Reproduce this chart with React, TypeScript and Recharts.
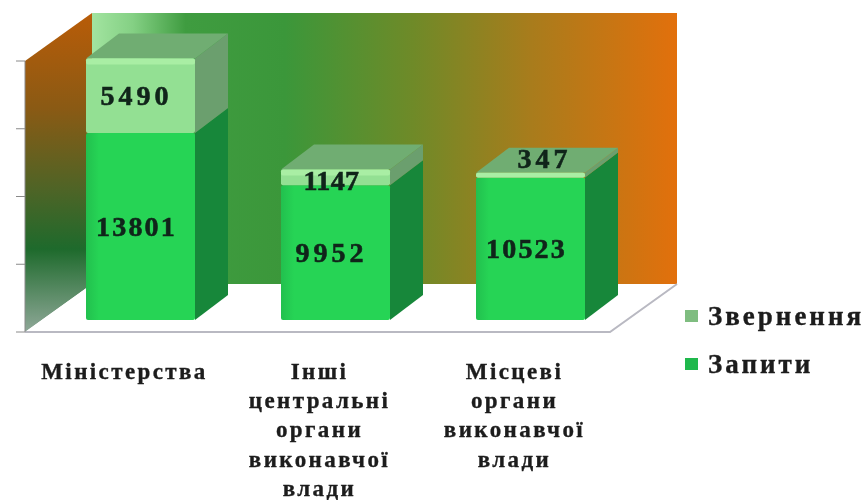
import { Bar, BarChart, LabelList, Legend, XAxis, YAxis, usePlotArea } from "recharts";

const categories = ["Міністерства", "Інші центральні органи виконавчої влади", "Місцеві органи виконавчої влади"];
const zapyty = [13801, 9952, 10523];
const zvernennia = [5490, 1147, 347];
const yTicks = [0, 5000, 10000, 15000, 20000];

const chartData = categories.map((name, i) => ({
  name,
  zapyty: zapyty[i],
  zvernennia: zvernennia[i],
}));

// fake 3D: how far the floor and a bar recede, and where the bars stand on the floor
const FLOOR_DX = 67;
const FLOOR_DY = -48;
const BAR_DX = 33;
const BAR_DY = -25;
const SHIFT_X = 18;
const SHIFT_Y = -12;

const SERIF = "'Liberation Serif', serif";
const INK = "#10241a";

function Walls() {
  const plot = usePlotArea();
  if (!plot) return null;
  const { x, y, width, height } = plot;
  const bottom = y + height;
  const right = x + width;
  return (
    <g>
      <defs>
        <linearGradient id="backWall" x1="0" y1="0" x2="1" y2="0">
          <stop offset="0" stopColor="#a2e4a0" />
          <stop offset="0.07" stopColor="#84d084" />
          <stop offset="0.16" stopColor="#3f9c40" />
          <stop offset="0.33" stopColor="#3b973a" />
          <stop offset="0.55" stopColor="#6f8a28" />
          <stop offset="0.75" stopColor="#a87c1c" />
          <stop offset="1" stopColor="#e2700c" />
        </linearGradient>
        <linearGradient id="sideWall" x1="0" y1="0" x2="0" y2="1">
          <stop offset="0" stopColor="#b95c08" />
          <stop offset="0.3" stopColor="#8a5a14" />
          <stop offset="0.55" stopColor="#4f6426" />
          <stop offset="0.74" stopColor="#1e6a2c" />
          <stop offset="1" stopColor="#8fa898" />
        </linearGradient>
        <linearGradient id="barFront" x1="0" y1="0" x2="1" y2="0">
          <stop offset="0" stopColor="#22c04e" />
          <stop offset="0.12" stopColor="#26d455" />
          <stop offset="1" stopColor="#26d455" />
        </linearGradient>
      </defs>
      <rect x={x + FLOOR_DX} y={y + FLOOR_DY} width={width} height={height} fill="url(#backWall)" />
      <polygon
        points={`${x},${y} ${x + FLOOR_DX},${y + FLOOR_DY} ${x + FLOOR_DX},${bottom + FLOOR_DY} ${x},${bottom}`}
        fill="url(#sideWall)"
      />
      <polygon
        points={`${x},${bottom} ${right},${bottom} ${right + FLOOR_DX},${bottom + FLOOR_DY} ${x + FLOOR_DX},${bottom + FLOOR_DY}`}
        fill="#ffffff"
      />
      <polyline
        points={`${x},${bottom} ${right},${bottom} ${right + FLOOR_DX},${bottom + FLOOR_DY}`}
        fill="none"
        stroke="#b9b9c2"
        strokeWidth={2}
      />
    </g>
  );
}

function Box3D(props: any) {
  const { x, y, width, height, front, side, top, bevel } = props;
  const left = x + SHIFT_X;
  const right = left + width;
  const upper = y + SHIFT_Y;
  const lower = upper + height;
  return (
    <g>
      <polygon
        points={`${right},${upper} ${right + BAR_DX},${upper + BAR_DY} ${right + BAR_DX},${lower + BAR_DY} ${right},${lower}`}
        fill={side}
      />
      {top && (
        <polygon
          points={`${left},${upper} ${left + BAR_DX},${upper + BAR_DY} ${right + BAR_DX},${upper + BAR_DY} ${right},${upper}`}
          fill={top}
        />
      )}
      <rect x={left} y={upper} width={width} height={height} rx={2} fill={front} />
      {bevel && <rect x={left} y={upper} width={width} height={Math.min(6, height)} rx={2} fill={bevel} />}
    </g>
  );
}

function ValueLabel(props: any) {
  const { x, y, width, height, value } = props;
  // the 347 label sits up on the top face, 1147 is set tight to fit its thin slice
  const isCap = value < 1000;
  const isThin = value < 2000;
  const spacing = isThin && !isCap ? 0.4 : value > 10000 ? 2.2 : 4;
  return (
    <text
      x={x + width / 2 + SHIFT_X + (isCap ? 14 : -4)}
      y={y + height / 2 + SHIFT_Y + (isCap ? -17 : isThin ? 3 : 0)}
      textAnchor="middle"
      dominantBaseline="central"
      fontFamily={SERIF}
      fontWeight="bold"
      fontSize={28}
      letterSpacing={spacing}
      fontKerning="none"
      stroke={INK}
      strokeWidth={0.6}
      fill={INK}
    >
      {value}
    </text>
  );
}

function CategoryTick(props: any) {
  const { x, payload } = props;
  const lines = String(payload.value).split(" ");
  return (
    <text
      x={x + 2}
      textAnchor="middle"
      fontFamily={SERIF}
      fontWeight="bold"
      fontSize={23}
      letterSpacing={2.4}
      stroke="#1c1c1c"
      strokeWidth={0.35}
      fill="#1c1c1c"
    >
      {lines.map((line, i) => (
        <tspan key={line} x={x + 2} y={379 + i * 29.2}>
          {line}
        </tspan>
      ))}
    </text>
  );
}

function LegendBox(props: any) {
  const items = [...props.payload].reverse();
  return (
    <div>
      {items.map((item: any) => (
        <div
          key={item.value}
          style={{
            display: "flex",
            alignItems: "center",
            height: 48,
            fontFamily: SERIF,
            fontWeight: "bold",
            fontSize: 27,
            letterSpacing: 3,
            color: "#1c1c1c",
            WebkitTextStroke: "0.35px #1c1c1c",
          }}
        >
          <span style={{ width: 13, height: 12, marginRight: 10, background: item.color }} />
          {item.value}
        </div>
      ))}
    </div>
  );
}

export default function App() {
  return (
    <div
      style={{
        position: "absolute",
        left: 0,
        top: 0,
        width: 867,
        height: 500,
        background: "#fff",
        filter: "blur(0.5px)",
      }}
    >
      <BarChart
        width={867}
        height={500}
        data={chartData}
        margin={{ top: 61, right: 257, bottom: 0, left: 0 }}
      >
        <Walls />
        <XAxis dataKey="name" axisLine={false} tickLine={false} height={168} interval={0} tick={<CategoryTick />} />
        <YAxis
          width={25}
          domain={[0, 20000]}
          ticks={yTicks}
          tick={() => <g />}
          tickSize={9}
          stroke="#8a8a8a"
        />
        <Legend
          content={<LegendBox />}
          layout="vertical"
          align="center"
          verticalAlign="middle"
          wrapperStyle={{ position: "absolute", left: 685, top: 292, width: 182, bottom: "auto", right: "auto" }}
        />
        <Bar
          dataKey="zapyty"
          name="Запити"
          stackId="a"
          barSize={109}
          fill="#1fb84c"
          isAnimationActive={false}
          shape={<Box3D front="url(#barFront)" side="#17873a" />}
        >
          <LabelList dataKey="zapyty" content={<ValueLabel />} />
        </Bar>
        <Bar
          dataKey="zvernennia"
          name="Звернення"
          stackId="a"
          barSize={109}
          fill="#7fbd80"
          isAnimationActive={false}
          shape={<Box3D front="#93e093" side="#6b9f6e" top="#70ad72" bevel="#a9eea4" />}
        >
          <LabelList dataKey="zvernennia" content={<ValueLabel />} />
        </Bar>
      </BarChart>
    </div>
  );
}
